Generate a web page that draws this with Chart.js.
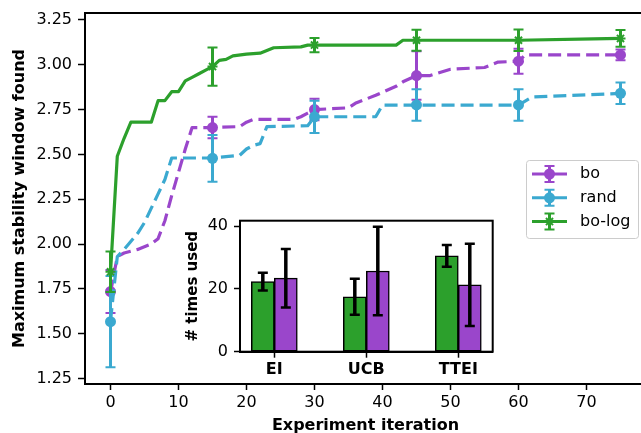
<!DOCTYPE html>
<html>
<head>
<meta charset="utf-8">
<script src="https://cdn.jsdelivr.net/npm/chart.js@4.4.1/dist/chart.umd.min.js"></script>
<style>
html, body { margin: 0; padding: 0; overflow: hidden; background: #fff; width: 641px; height: 433px; }
#main { position: absolute; left: 0; top: 0; }
#inset { position: absolute; left: 180px; top: 210px; }
</style>
</head>
<body>
<canvas id="main" width="660" height="445"></canvas>
<canvas id="inset" width="320" height="175"></canvas>
<script>
const PURPLE = '#9a46cb';
const BLUE = '#3ba9d0';
const GREEN = '#2ca02c';

// main plot: trajectories (iteration, best value)
const boIter = [0, 1, 2, 4, 6, 7, 8, 9, 10, 11, 12, 15, 19, 20, 21, 27, 28, 29, 30, 35, 36, 39, 42, 43, 45, 47, 50, 55, 57, 60, 61, 75];
const boVal = [1.73, 1.93, 1.95, 1.97, 2.00, 2.03, 2.13, 2.27, 2.40, 2.53, 2.65, 2.65, 2.655, 2.68, 2.695, 2.695, 2.71, 2.73, 2.75, 2.76, 2.785, 2.83, 2.88, 2.905, 2.94, 2.94, 2.975, 2.985, 3.015, 3.02, 3.055, 3.055];

const randIter = [0, 1, 2, 4, 5, 6, 7, 8, 9, 15, 19, 20, 21, 22, 23, 29, 30, 39, 40, 60, 62, 75];
const randVal = [1.57, 1.93, 1.97, 2.06, 2.12, 2.20, 2.28, 2.36, 2.48, 2.48, 2.495, 2.53, 2.55, 2.56, 2.655, 2.66, 2.71, 2.71, 2.775, 2.775, 2.82, 2.84];

const logIter = [0, 1, 2, 3, 6, 7, 8, 9, 10, 11, 12, 13, 14, 15, 16, 17, 18, 20, 22, 24, 28, 29, 42, 43, 60, 71, 75];
const logVal = [1.84, 2.49, 2.59, 2.68, 2.68, 2.80, 2.80, 2.85, 2.85, 2.91, 2.93, 2.95, 2.97, 2.99, 3.025, 3.03, 3.05, 3.06, 3.065, 3.095, 3.10, 3.11, 3.11, 3.137, 3.137, 3.145, 3.147];

// error bar points
const markerIters = [0, 15, 30, 45, 60, 75];
const boMean = [1.735, 2.65, 2.75, 2.94, 3.02, 3.055];
const boErr = [0.12, 0.06, 0.06, 0.135, 0.07, 0.03];
const randMean = [1.567, 2.478, 2.71, 2.776, 2.776, 2.841];
const randErr = [0.255, 0.13, 0.09, 0.088, 0.088, 0.06];
const logMean = [1.845, 2.99, 3.11, 3.137, 3.137, 3.147];
const logErr = [0.113, 0.107, 0.04, 0.058, 0.06, 0.047];

const xTicks = [0, 10, 20, 30, 40, 50, 60, 70];
const yTicks = [1.25, 1.50, 1.75, 2.00, 2.25, 2.50, 2.75, 3.00, 3.25];

// inset: acquisition function usage
const insetCats = ['EI', 'UCB', 'TTEI'];
const insetLog = [22.3, 17.5, 30.5];
const insetLogErr = [2.85, 5.75, 3.45];
const insetBo = [23.4, 25.7, 21.3];
const insetBoErr = [9.3, 14.1, 13.1];
const insetTicks = [0, 20, 40];

Chart.defaults.font.family = 'DejaVu Sans';
Chart.defaults.font.size = 16;
Chart.defaults.color = '#000';

const pts = (xs, ys) => xs.map((x, i) => ({x: x, y: ys[i]}));
const noPad = s => { s.paddingTop = 0; s.paddingBottom = 0; s.paddingLeft = 0; s.paddingRight = 0; };

const errorBars = {
    id: 'errorBars',
    beforeDatasetDraw(chart, args) {
        const ds = chart.data.datasets[args.index];
        if (!ds.err) return;
        const {ctx, scales: {x, y}} = chart;
        ctx.save();
        ctx.strokeStyle = ds.errColor;
        ds.data.forEach((p, i) => {
            const px = x.getPixelForValue(p.x);
            const y1 = y.getPixelForValue(p.y + ds.err[i]);
            const y2 = y.getPixelForValue(p.y - ds.err[i]);
            ctx.lineWidth = 3;
            ctx.beginPath();
            ctx.moveTo(px, y1);
            ctx.lineTo(px, y2);
            ctx.stroke();
            ctx.lineWidth = 2;
            ctx.beginPath();
            ctx.moveTo(px - 5, y1);
            ctx.lineTo(px + 5, y1);
            ctx.moveTo(px - 5, y2);
            ctx.lineTo(px + 5, y2);
            ctx.stroke();
        });
        ctx.restore();
    }
};

const frame = {
    id: 'frame',
    afterDraw(chart) {
        const {ctx, chartArea: a} = chart;
        ctx.save();
        ctx.strokeStyle = '#000';
        ctx.lineWidth = 2;
        ctx.strokeRect(a.left, a.top, a.right - a.left, a.bottom - a.top);
        ctx.restore();
    }
};

const legendBox = {
    id: 'legendBox',
    afterDraw(chart) {
        const ctx = chart.ctx;
        const entries = [
            {text: 'bo', color: PURPLE, style: 'circle'},
            {text: 'rand', color: BLUE, style: 'circle'},
            {text: 'bo-log', color: GREEN, style: 'star'},
        ];
        ctx.save();
        ctx.fillStyle = 'rgba(255,255,255,0.8)';
        ctx.strokeStyle = '#cccccc';
        ctx.lineWidth = 1;
        ctx.beginPath();
        ctx.roundRect(526.5, 160.5, 112, 78, 3);
        ctx.fill();
        ctx.stroke();
        entries.forEach((e, i) => {
            const cy = 174 + i * 23.8;
            const cx = 549.5;
            ctx.strokeStyle = e.color;
            ctx.fillStyle = e.color;
            ctx.lineWidth = 3;
            ctx.beginPath();
            ctx.moveTo(532, cy);
            ctx.lineTo(567, cy);
            ctx.moveTo(cx, cy - 8);
            ctx.lineTo(cx, cy + 8);
            ctx.stroke();
            ctx.lineWidth = 2;
            ctx.beginPath();
            ctx.moveTo(cx - 5, cy - 8);
            ctx.lineTo(cx + 5, cy - 8);
            ctx.moveTo(cx - 5, cy + 8);
            ctx.lineTo(cx + 5, cy + 8);
            ctx.stroke();
            if (e.style === 'circle') {
                ctx.beginPath();
                ctx.arc(cx, cy, 5.5, 0, Math.PI * 2);
                ctx.fill();
            } else {
                Chart.helpers.drawPoint(ctx, {pointStyle: 'star', radius: 5, borderWidth: 2}, cx, cy);
            }
            ctx.fillStyle = '#000';
            ctx.font = '16px "DejaVu Sans"';
            ctx.textBaseline = 'middle';
            ctx.fillText(e.text, 580, cy);
        });
        ctx.restore();
    }
};

function lineSet(label, data, color, dashed, order) {
    return {
        label: label, data: data, borderColor: color, borderWidth: 3.2,
        borderDash: dashed ? [13, 6] : [], borderJoinStyle: 'round',
        pointRadius: 0, tension: 0, order: order
    };
}
function markerSet(label, data, err, color, style, order) {
    return {
        label: label, data: data, err: err, errColor: color, showLine: false,
        pointStyle: style, pointRadius: style === 'star' ? 5 : 5.5,
        pointBackgroundColor: color, pointBorderColor: color,
        pointBorderWidth: style === 'star' ? 2 : 0, order: order
    };
}

new Chart(document.getElementById('main'), {
    type: 'line',
    data: {
        datasets: [
            lineSet('bo', pts(boIter, boVal), PURPLE, true, 6),
            markerSet('bo', pts(markerIters, boMean), boErr, PURPLE, 'circle', 5),
            lineSet('rand', pts(randIter, randVal), BLUE, true, 4),
            markerSet('rand', pts(markerIters, randMean), randErr, BLUE, 'circle', 3),
            lineSet('bo-log', pts(logIter, logVal), GREEN, false, 2),
            markerSet('bo-log', pts(markerIters, logMean), logErr, GREEN, 'star', 1),
        ]
    },
    options: {
        responsive: false,
        animation: false,
        events: [],
        layout: {padding: {top: 13, right: 14, left: 0, bottom: 0}},
        plugins: {legend: {display: false}, tooltip: {enabled: false}},
        scales: {
            x: {
                type: 'linear', min: -3.75, max: 78.75,
                afterBuildTicks: s => { s.ticks = xTicks.map(v => ({value: v})); },
                afterFit: s => { s.height = 61; noPad(s); },
                ticks: {padding: 3, color: '#000'},
                grid: {drawOnChartArea: false, tickLength: 6, tickColor: '#000', tickWidth: 1.5},
                border: {color: '#000', width: 2},
                title: {display: true, text: 'Experiment iteration', font: {size: 16, weight: 'bold'}, padding: {top: 0, bottom: 9.4}}
            },
            y: {
                type: 'linear', min: 1.219, max: 3.289,
                afterBuildTicks: s => { s.ticks = yTicks.map(v => ({value: v})); },
                afterFit: s => { s.width = 85; noPad(s); },
                ticks: {padding: 6, color: '#000', callback: v => v.toFixed(2)},
                grid: {drawOnChartArea: false, tickLength: 7, tickColor: '#000', tickWidth: 1.5},
                border: {color: '#000', width: 2},
                title: {display: true, text: 'Maximum stability window found', font: {size: 16, weight: 'bold'}, padding: {top: 10.4, bottom: 0}}
            }
        }
    },
    plugins: [errorBars, frame, legendBox]
});

const insetPlugin = {
    id: 'insetPlugin',
    beforeDraw(chart) {
        const {ctx, chartArea: a} = chart;
        ctx.save();
        ctx.fillStyle = '#fff';
        ctx.fillRect(a.left, a.top, a.right - a.left, a.bottom - a.top);
        ctx.restore();
    },
    afterDatasetsDraw(chart) {
        const {ctx, scales: {y}} = chart;
        ctx.save();
        ctx.strokeStyle = '#000';
        chart.data.datasets.forEach((ds, di) => {
            chart.getDatasetMeta(di).data.forEach((bar, i) => {
                const v = ds.data[i].y;
                const y1 = y.getPixelForValue(v + ds.err[i]);
                const y2 = y.getPixelForValue(v - ds.err[i]);
                ctx.lineWidth = 3.5;
                ctx.beginPath();
                ctx.moveTo(bar.x, y1);
                ctx.lineTo(bar.x, y2);
                ctx.stroke();
                ctx.lineWidth = 2.5;
                ctx.beginPath();
                ctx.moveTo(bar.x - 5, y1);
                ctx.lineTo(bar.x + 5, y1);
                ctx.moveTo(bar.x - 5, y2);
                ctx.lineTo(bar.x + 5, y2);
                ctx.stroke();
            });
        });
        ctx.restore();
    },
    afterDraw(chart) {
        const {ctx, chartArea: a} = chart;
        ctx.save();
        ctx.strokeStyle = '#000';
        ctx.lineWidth = 2;
        ctx.strokeRect(a.left, a.top, a.right - a.left, a.bottom - a.top);
        ctx.restore();
    }
};

new Chart(document.getElementById('inset'), {
    type: 'bar',
    data: {
        datasets: [
            {label: 'bo-log', data: pts([0, 1, 2], insetLog), err: insetLogErr, backgroundColor: GREEN,
             borderColor: '#000', borderWidth: 1.5, borderSkipped: false, barThickness: 23},
            {label: 'bo', data: pts([0, 1, 2], insetBo), err: insetBoErr, backgroundColor: PURPLE,
             borderColor: '#000', borderWidth: 1.5, borderSkipped: false, barThickness: 23},
        ]
    },
    options: {
        responsive: false,
        animation: false,
        events: [],
        layout: {padding: {top: 10.7, right: 7.3, left: 0, bottom: 0}},
        plugins: {legend: {display: false}, tooltip: {enabled: false}},
        scales: {
            x: {
                type: 'linear', min: -0.373, max: 2.374, offset: false,
                afterBuildTicks: s => { s.ticks = insetCats.map((c, i) => ({value: i})); },
                afterFit: s => { s.height = 33.3; noPad(s); },
                ticks: {padding: 3, color: '#000', font: {size: 16, weight: 'bold'}, callback: v => insetCats[v]},
                grid: {offset: false, drawOnChartArea: false, tickLength: 6, tickColor: '#000', tickWidth: 1.5},
                border: {color: '#000', width: 2}
            },
            y: {
                type: 'linear', min: 0, max: 41.7,
                afterBuildTicks: s => { s.ticks = insetTicks.map(v => ({value: v})); },
                afterFit: s => { s.width = 60; noPad(s); },
                ticks: {padding: 6, color: '#000'},
                grid: {drawOnChartArea: false, tickLength: 6, tickColor: '#000', tickWidth: 1.5},
                border: {color: '#000', width: 2},
                title: {display: true, text: '# times used', font: {size: 15, weight: 'bold'}, padding: {top: 4, bottom: 0}}
            }
        }
    },
    plugins: [insetPlugin]
});
</script>
</body>
</html>
